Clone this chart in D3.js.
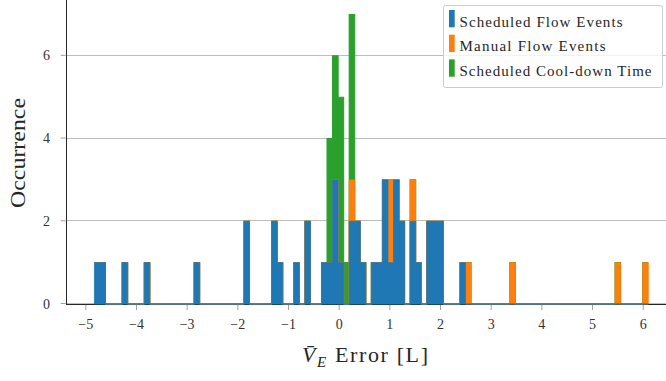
<!DOCTYPE html>
<html>
<head>
<meta charset="utf-8">
<script src="https://cdn.jsdelivr.net/npm/d3@7"></script>
<style>
    body { margin: 0; background: #fff; }
    svg { display: block; }
    text { font-family: "Liberation Serif", "DejaVu Serif", serif; fill: #262626; }
</style>
</head>
<body>
<svg id="chart" width="666" height="381"></svg>
<script>
// histogram: 100 bins between binStart and binEnd
let nBins = 100,
    binStart = -4.83,
    binEnd = 6.10;

let seriesNames = ["Scheduled Flow Events", "Manual Flow Events", "Scheduled Cool-down Time"];
let seriesColors = ["#1f77b4", "#ff7f0e", "#2ca02c"];

let scheduledFlow = [
    1, 1, 0, 0, 0, 1, 0, 0, 0, 1,
    0, 0, 0, 0, 0, 0, 0, 0, 1, 0,
    0, 0, 0, 0, 0, 0, 0, 2, 0, 0,
    0, 0, 2, 1, 0, 0, 1, 0, 2, 0,
    0, 1, 1, 3, 1, 0, 2, 2, 1, 0,
    1, 1, 3, 1, 3, 2, 0, 2, 1, 0,
    2, 2, 2, 0, 0, 0, 1, 0, 0, 0,
    0, 0, 0, 0, 0, 0, 0, 0, 0, 0,
    0, 0, 0, 0, 0, 0, 0, 0, 0, 0,
    0, 0, 0, 0, 0, 0, 0, 0, 0, 0
];

let manualFlow = [
    0, 0, 0, 0, 0, 0, 0, 0, 0, 0,
    0, 0, 0, 0, 0, 0, 0, 0, 0, 0,
    0, 0, 0, 0, 0, 0, 0, 0, 0, 0,
    0, 0, 0, 0, 0, 0, 0, 0, 0, 0,
    0, 0, 0, 0, 0, 0, 1, 0, 0, 0,
    0, 0, 0, 2, 0, 0, 0, 1, 0, 0,
    0, 0, 0, 0, 0, 0, 0, 1, 0, 0,
    0, 0, 0, 0, 0, 1, 0, 0, 0, 0,
    0, 0, 0, 0, 0, 0, 0, 0, 0, 0,
    0, 0, 0, 0, 1, 0, 0, 0, 0, 1
];

let coolDown = [
    0, 0, 0, 0, 0, 0, 0, 0, 0, 0,
    0, 0, 0, 0, 0, 0, 0, 0, 0, 0,
    0, 0, 0, 0, 0, 0, 0, 0, 0, 0,
    0, 0, 0, 0, 0, 0, 0, 0, 0, 0,
    0, 0, 3, 3, 4, 1, 4, 0, 0, 0,
    0, 0, 0, 0, 0, 0, 0, 0, 0, 0,
    0, 0, 0, 0, 0, 0, 0, 0, 0, 0,
    0, 0, 0, 0, 0, 0, 0, 0, 0, 0,
    0, 0, 0, 0, 0, 0, 0, 0, 0, 0,
    0, 0, 0, 0, 0, 0, 0, 0, 0, 0
];

let xTicks = [-5, -4, -3, -2, -1, 0, 1, 2, 3, 4, 5, 6];
let yTicks = [0, 2, 4, 6];

let svg = d3.select("#chart");
let plotLeft = 66.7, plotRight = 676, plotTop = 0, plotBottom = 304;

let xScale = d3.scaleLinear().domain([-5.377, 6.647]).range([plotLeft, plotRight]);
let yScale = d3.scaleLinear().domain([0, 7.35]).range([plotBottom, plotTop]);

let edges = d3.range(nBins + 1).map(function (i) {
    return binStart + i * (binEnd - binStart) / nBins;
});

let rows = d3.range(nBins).map(function (i) {
    return {s: scheduledFlow[i], m: manualFlow[i], c: coolDown[i]};
});
let stacked = d3.stack().keys(["s", "m", "c"])(rows);

// grid
svg.append("g")
    .selectAll("line")
    .data(yTicks)
    .enter()
    .append("line")
    .attr("x1", plotLeft)
    .attr("x2", 666)
    .attr("y1", function (d) { return Math.round(yScale(d)) - 0.5; })
    .attr("y2", function (d) { return Math.round(yScale(d)) - 0.5; })
    .attr("stroke", "#bdbdbd")
    .attr("stroke-width", 1);

// x axis line
svg.append("line")
    .attr("x1", plotLeft).attr("x2", 666)
    .attr("y1", plotBottom + 0.5).attr("y2", plotBottom + 0.5)
    .attr("stroke", "#262626")
    .attr("stroke-width", 1);

let area = d3.area()
    .curve(d3.curveStepAfter)
    .x(function (d) { return xScale(d.x); })
    .y0(function (d) { return yScale(d.y0); })
    .y1(function (d) { return yScale(d.y1); });

function layerPoints(layer) {
    let pts = layer.map(function (d, i) {
        return {x: edges[i], y0: d[0], y1: d[1]};
    });
    let last = layer[layer.length - 1];
    pts.push({x: edges[nBins], y0: last[0], y1: last[1]});
    return pts;
}

// top layer first, lower layers drawn over it
let layers = svg.append("g");
stacked.slice().reverse().forEach(function (layer) {
    let color = seriesColors[layer.index];
    layers.append("path")
        .attr("d", area(layerPoints(layer)))
        .attr("fill", color)
        .attr("stroke", color)
        .attr("stroke-width", layer.index === 2 ? 1.1 : 0.8);
});

// left spine
svg.append("line")
    .attr("x1", plotLeft - 0.2).attr("x2", plotLeft - 0.2)
    .attr("y1", 0).attr("y2", plotBottom + 1)
    .attr("stroke", "#262626")
    .attr("stroke-width", 1);

// ticks
let xTickG = svg.append("g")
    .selectAll("g")
    .data(xTicks)
    .enter()
    .append("g")
    .attr("transform", function (d) { return "translate(" + xScale(d) + ",0)"; });
xTickG.append("line")
    .attr("y1", plotBottom + 1).attr("y2", plotBottom + 6)
    .attr("stroke", "#a0a0a0");
xTickG.append("text")
    .attr("y", 329)
    .attr("text-anchor", "middle")
    .style("font-size", "14px")
    .style("fill", "#333")
    .text(function (d) { return d < 0 ? "\u2212" + Math.abs(d) : d; });

let yTickG = svg.append("g")
    .selectAll("g")
    .data(yTicks)
    .enter()
    .append("g")
    .attr("transform", function (d) { return "translate(0," + yScale(d) + ")"; });
yTickG.append("line")
    .attr("x1", plotLeft - 6).attr("x2", plotLeft - 1)
    .attr("y1", -0.5).attr("y2", -0.5)
    .attr("stroke", "#a0a0a0");
yTickG.append("text")
    .attr("x", 50)
    .attr("y", 4.5)
    .attr("text-anchor", "end")
    .style("font-size", "14px")
    .style("fill", "#333")
    .text(function (d) { return d; });

// axis labels
svg.append("text")
    .attr("transform", "translate(25,153) rotate(-90)")
    .attr("text-anchor", "middle")
    .attr("textLength", 110)
    .attr("lengthAdjust", "spacingAndGlyphs")
    .style("font-size", "21px")
    .text("Occurrence");

let xLabel = svg.append("text")
    .attr("x", 302)
    .attr("y", 362)
    .attr("textLength", 126)
    .attr("lengthAdjust", "spacing")
    .style("font-size", "22px");
xLabel.append("tspan")
    .style("font-style", "italic")
    .text("V\u0304");
xLabel.append("tspan")
    .attr("dy", 5)
    .style("font-style", "italic")
    .style("font-size", "15px")
    .text("E");
xLabel.append("tspan")
    .attr("dy", -5)
    .text(" Error [L]");

// legend
let legend = svg.append("g");
legend.append("rect")
    .attr("x", 443.5).attr("y", 5.5)
    .attr("width", 219).attr("height", 82)
    .attr("rx", 2)
    .attr("fill", "#fff")
    .attr("fill-opacity", 0.8)
    .attr("stroke", "#cccccc");

let textWidths = [163, 146, 192];
let legendRows = legend.selectAll("g.row")
    .data(seriesNames)
    .enter()
    .append("g")
    .attr("class", "row")
    .attr("transform", function (d, i) { return "translate(449," + (10 + i * 24.7) + ")"; });
legendRows.append("rect")
    .attr("width", 5.7)
    .attr("height", 17.3)
    .attr("fill", function (d, i) { return seriesColors[i]; });
legendRows.append("text")
    .attr("x", 10.5)
    .attr("y", 16.5)
    .attr("textLength", function (d, i) { return textWidths[i]; })
    .attr("lengthAdjust", "spacing")
    .style("font-size", "15px")
    .text(function (d) { return d; });
</script>
</body>
</html>
